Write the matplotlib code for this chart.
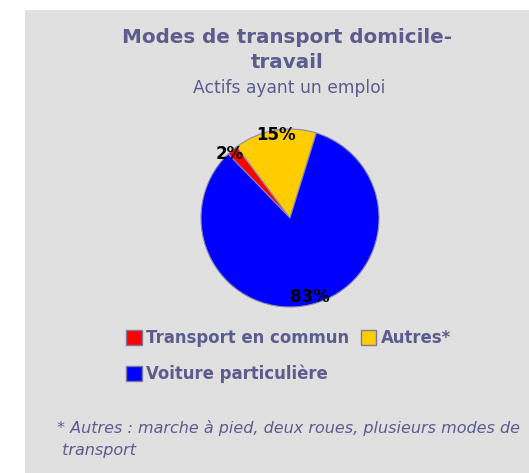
import matplotlib.pyplot as plt
from matplotlib.patches import Rectangle, Patch

# data
labels = ['Transport en commun', 'Autres*', 'Voiture particulière']
values = [2, 15, 83]
colors = ['#ff0000', '#ffcc00', '#0000ff']

title = 'Modes de transport domicile-\ntravail'
subtitle = 'Actifs ayant un emploi'
note = '* Autres : marche à pied, deux roues, plusieurs modes de\n transport'

txt = '#5c5c8e'
W, H = 529, 473
fig = plt.figure(figsize=(W / 100, H / 100), dpi=100)
fig.patch.set_facecolor('white')
# gray panel
fig.patches.append(Rectangle((25 / W, 0), 1, 1 - 10 / H, transform=fig.transFigure,
                             facecolor='#e0e0e0', edgecolor='none', zorder=-10))

fig.text(287 / W, 1 - 50 / H, title, ha='center', va='center', color=txt,
         fontsize=14.3, fontweight='bold', linespacing=1.35)
fig.text(289 / W, 1 - 88 / H, subtitle, ha='center', va='center', color=txt, fontsize=12.3)

# pie axes: center (290,218), radius 89
r = 89
ax = fig.add_axes([(290 - r) / W, 1 - (218 + r) / H, 2 * r / W, 2 * r / H], zorder=5)
wedges, _, autotexts = ax.pie(values, colors=colors, startangle=134, counterclock=False,
                              autopct='%d%%', pctdistance=0.95,
                              wedgeprops=dict(edgecolor='#8a8aa8', linewidth=0.8),
                              textprops=dict(color='black', fontsize=12, fontweight='bold'))
autotexts[0].set_x(autotexts[0].get_position()[0] - 0.06)
autotexts[2].set_y(autotexts[2].get_position()[1] + 0.04)
ax.set_aspect('equal')
ax.set_xlim(-1, 1)
ax.set_ylim(-1, 1)
ax.axis('off')

# legend: column-wise fill -> red, blue in first col, yellow in second
order = [0, 2, 1]
hs = [Patch(facecolor=colors[i], edgecolor='#7a7aa0', linewidth=1) for i in order]
leg = fig.legend(hs, [labels[i] for i in order], ncol=2, loc='upper left',
                 bbox_to_anchor=(113 / W, 1 - 316 / H), frameon=False,
                 handlelength=0.95, handleheight=1.0, handletextpad=0.25,
                 columnspacing=0.7, labelspacing=1.05, borderpad=0.3,
                 prop=dict(size=11.9, weight='bold'))
for t in leg.get_texts():
    t.set_color(txt)

fig.text(57 / W, 1 - 439 / H, note, ha='left', va='center', color=txt,
         fontsize=11.5, style='italic', linespacing=1.65)

fig.savefig('out.png', dpi=100)
